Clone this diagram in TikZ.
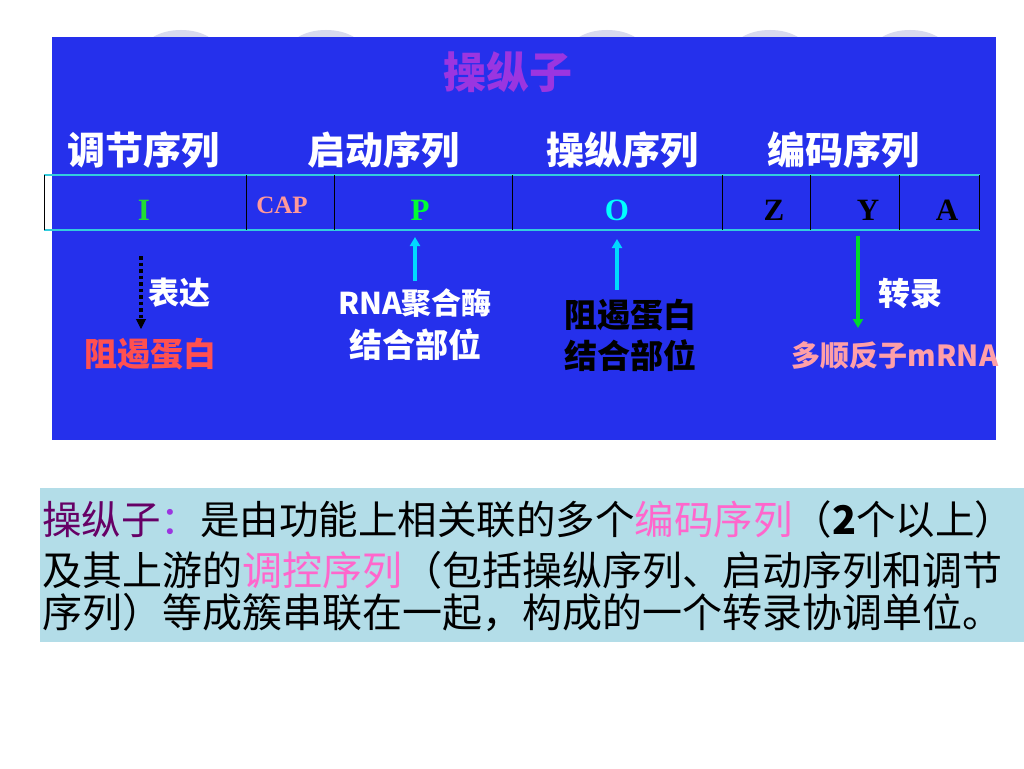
\documentclass[tikz,border=0pt]{standalone}
\usepackage{fontspec}
\setmainfont{Liberation Serif}
\newfontfamily\cjk{Noto Sans CJK SC}
\usetikzlibrary{arrows.meta,calc}
\definecolor{slideblue}{HTML}{2530EC}
\definecolor{titlepurple}{HTML}{9B35E0}
\definecolor{stripcyan}{HTML}{33CCDD}
\definecolor{capPink}{HTML}{FF9999}
\definecolor{igreen}{HTML}{22DD33}
\definecolor{pgreen}{HTML}{00FF33}
\definecolor{ocyan}{HTML}{00FFFF}
\definecolor{redtext}{HTML}{FF5050}
\definecolor{pinktext}{HTML}{FF9FA8}
\definecolor{boxblue}{HTML}{B3DDE8}
\definecolor{defpurple}{HTML}{660066}
\definecolor{defpink}{HTML}{FF66CC}
\definecolor{arcgrey}{HTML}{D8DAEE}
\tikzset{
  zh/.style={font=\cjk\bfseries\fontsize{#1}{#1}\selectfont, inner sep=0pt},
  gene/.style={font=\bfseries\fontsize{#1}{#1}\selectfont, inner sep=0pt},
  divider/.style={draw=black, line width=0.8pt},
  upcyan/.style={draw=ocyan!85!blue, line width=3.5pt, -{Triangle[length=9pt,width=10pt]}},
  defline/.style={font=\cjk\fontsize{#1}{#1}\selectfont, inner sep=0pt, anchor=west, text=black}
}
\begin{document}
\begin{tikzpicture}[x=1pt,y=-1pt]
\useasboundingbox (0,0) rectangle (1024,768);
\fill[white] (0,0) rectangle (1024,768);
% faint background arcs
\foreach \cx in {181,326,607,770,910}{
  \fill[arcgrey] (\cx,52) ellipse (38 and 22);
}
% blue panel
\fill[slideblue] (52,37) rectangle (996,440);
\node[zh=43, text=titlepurple] (title) at (508,72) {操纵子};
\node[zh=38, text=white] (reg) at (143,150) {调节序列};
\node[zh=38, text=white] (prom) at (383,150) {启动序列};
\node[zh=38, text=white] (oper) at (622,150) {操纵序列};
\node[zh=38, text=white] (code) at (843,150) {编码序列};
% strip
\draw[stripcyan, line width=1.6pt] (44,175) -- (980,175);
\draw[stripcyan, line width=1.6pt] (44,230) -- (980,230);
\draw[black, line width=0.8pt] (44,175) -- (44,230);
\foreach \dx in {246,334,512,722,810,899,979}{
  \draw[divider] (\dx,175) -- (\dx,230);
}
\node[gene=31, text=igreen] (gI) at (144,210) {I};
\node[gene=25, text=capPink] (gCAP) at (282,205) {CAP};
\node[gene=31, text=pgreen] (gP) at (420,210) {P};
\node[gene=31, text=ocyan] (gO) at (617,210) {O};
\node[gene=31, text=black] (gZ) at (774,210) {Z};
\node[gene=31, text=black] (gY) at (868,210) {Y};
\node[gene=31, text=black] (gA) at (947,210) {A};
% lower labels
\node[zh=31, text=white] (expr) at (179,293) {表达};
\node[zh=33, text=redtext] (rep) at (150,354) {阻遏蛋白};
\node[zh=30, text=white] (rnap1) at (415,303) {RNA聚合酶};
\node[zh=33, text=white] (rnap2) at (415,345) {结合部位};
\node[zh=33, text=black] (repb1) at (630,315) {阻遏蛋白};
\node[zh=33, text=black] (repb2) at (630,356) {结合部位};
\node[zh=32, text=white] (tran) at (910,293) {转录};
\node[zh=29, text=pinktext] (mrna) at (895,355) {多顺反子mRNA};
% arrows
\coordinate (dA) at (141,256);
\coordinate (dB) at (141,329);
\draw[black, line width=3.5pt, dash pattern=on 3.5pt off 3pt] (dA) -- ($(dB)+(0,-9)$);
\draw[black, line width=1pt, -{Triangle[length=10pt,width=10pt]}] ($(dB)+(0,-10)$) -- (dB);
\coordinate (pA) at (415,281);
\coordinate (pB) at (415,237);
\draw[upcyan] (pA) -- (pB);
\coordinate (oA) at (617,290);
\coordinate (oB) at (617,239);
\draw[upcyan] (oA) -- (oB);
\coordinate (tA) at (858,236);
\coordinate (tB) at (858,328);
\draw[draw=pgreen!85!black, line width=3.5pt, -{Triangle[length=9pt,width=10pt]}] (tA) -- (tB);
% definition box
\fill[boxblue] (40,488) rectangle (1024,642);
\node[defline=39.5] (l1) at (42,519) {\textcolor{defpurple}{操纵子}\textcolor{titlepurple}{：}是由功能上相关联的多个\textcolor{defpink}{编码序列}（\textbf{2}个以上）};
\node[defline=40] (l2) at (42,570) {及其上游的\textcolor{defpink}{调控序列}（包括操纵序列、启动序列和调节};
\node[defline=40] (l3) at (42,613) {序列）等成簇串联在一起，构成的一个转录协调单位。};
\end{tikzpicture}
\end{document}
